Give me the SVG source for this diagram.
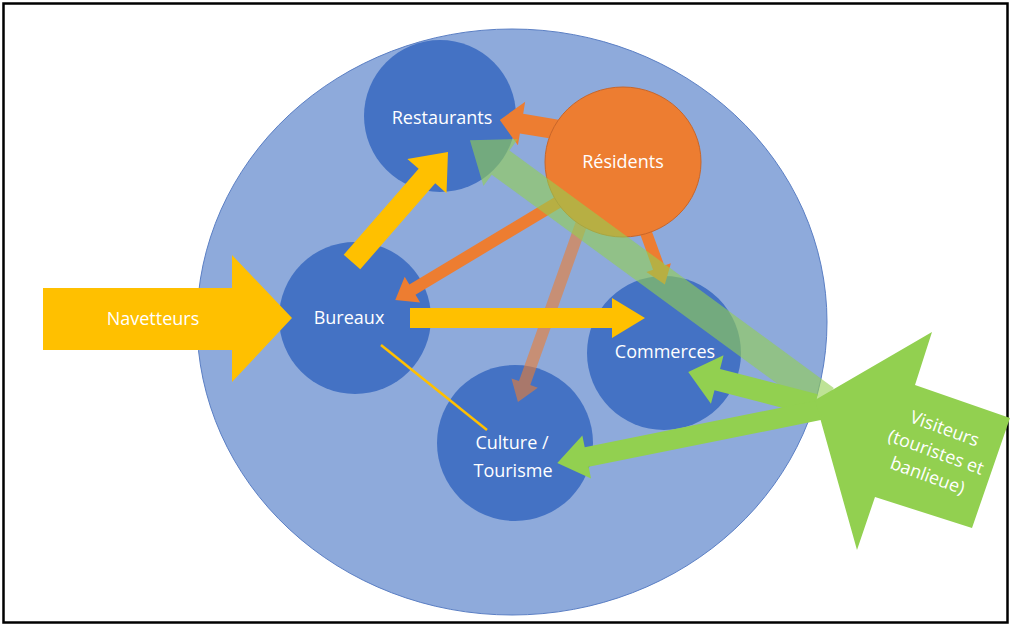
<svg xmlns="http://www.w3.org/2000/svg" width="1011" height="626" viewBox="0 0 1011 626">
<style>
.lbl{font-family:"Open Sans","Liberation Sans",sans-serif;font-size:18px;fill:#ffffff;text-anchor:middle}
.node{fill:#4472c4}
.yel{fill:#ffc000}
.org{fill:#ed7d31}
.grn{fill:#92d050}
</style>
<rect x="0" y="0" width="1011" height="626" fill="#ffffff"/>
<rect x="3.5" y="3.5" width="1004" height="619" fill="none" stroke="#000" stroke-width="2.5"/>
<g id="zone">
<ellipse cx="512" cy="322" rx="315" ry="293" fill="#8eaadb" stroke="#5b7fc4" stroke-width="1"/>
</g>
<g id="restaurants"><circle class="node" cx="440" cy="116" r="76"/><text class="lbl" x="442" y="124">Restaurants</text></g>
<g id="bureaux"><circle class="node" cx="355" cy="318" r="76"/><text class="lbl" x="349" y="324">Bureaux</text></g>
<g id="commerces"><circle class="node" cx="664" cy="353" r="77"/><text class="lbl" x="665" y="358">Commerces</text></g>
<g id="culture"><circle class="node" cx="515" cy="443" r="78"/><text class="lbl" x="512" y="449">Culture /</text><text class="lbl" x="513" y="477">Tourisme</text></g>
<g id="connectors">
<g transform="translate(560,130) rotate(189.5)"><polygon class="org" points="0,-10 39,-10 39,-22 61,0 39,22 39,10 0,10"/></g>
<g transform="translate(565,198) rotate(149)"><polygon class="org" points="0,-6 178,-6 178,-15 198,0 178,15 178,6 0,6"/></g>
<g transform="translate(582,222) rotate(109.6)"><polygon class="org" opacity="0.6" points="0,-6 171,-6 171,-14 191,0 171,14 171,6 0,6"/></g>
<g transform="translate(645,230) rotate(70)"><polygon class="org" points="0,-6 40,-6 40,-13 58,0 40,13 40,6 0,6"/></g>
<g transform="translate(352,262) rotate(-48.9)"><polygon class="yel" points="0,-11 114,-11 114,-26 146,0 114,26 114,11 0,11"/></g>
<g transform="translate(410,318)"><polygon class="yel" points="0,-10 202,-10 202,-20 235,0 202,20 202,10 0,10"/></g>
<line x1="381" y1="345" x2="487" y2="430" stroke="#ffc000" stroke-width="2.5"/>
</g>
<g id="residents"><ellipse class="org" cx="623" cy="162" rx="78" ry="75" stroke="#c8662a" stroke-width="1"/><text class="lbl" x="623" y="168">Résidents</text></g>
<g id="connectors-visitors">
<g transform="translate(825,400) rotate(216.2)"><polygon class="grn" opacity="0.6" points="0,-15 402,-15 402,-29 440,0 402,29 402,15 0,15"/></g>
<g transform="translate(815,405) rotate(194.6)"><polygon class="grn" points="0,-11 101,-11 101,-25 131,0 101,25 101,11 0,11"/></g>
<g transform="translate(820,410) rotate(168.6)"><polygon class="grn" points="0,-10 238,-10 238,-22 268,0 238,22 238,10 0,10"/></g>
</g>
<g id="navetteurs"><polygon class="yel" points="43,288 232,288 232,255 292,318 232,382 232,350 43,350"/><text class="lbl" x="153" y="325">Navetteurs</text></g>
<g id="visiteurs"><polygon class="grn" points="815,400 932,332 915,385 1010,418 972,528 875,497 857,550"/>
<g transform="translate(935,455) rotate(20)"><text class="lbl" x="0" y="-22">Visiteurs</text><text class="lbl" x="0" y="3">(touristes et</text><text class="lbl" x="0" y="28">banlieue)</text></g></g>
</svg>
